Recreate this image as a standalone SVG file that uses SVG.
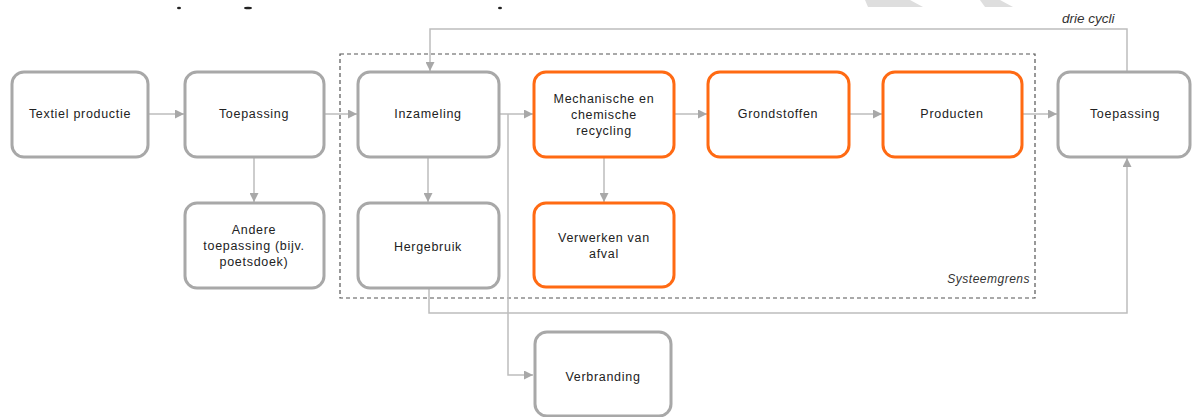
<svg xmlns="http://www.w3.org/2000/svg" width="1192" height="417" viewBox="0 0 1192 417">
<style>
.box{fill:#fff;stroke:#a8a8a8;stroke-width:3}
.obox{fill:#fff;stroke:#ff6a13;stroke-width:3}
.t{font-family:"Liberation Sans",Arial,sans-serif;font-size:12.5px;letter-spacing:0.7px;fill:#222;text-anchor:middle}
.it{font-family:"Liberation Sans",Arial,sans-serif;font-style:italic;fill:#333}
.c{fill:none;stroke:#bdbdbd;stroke-width:1.5}
</style>
<defs>
<marker id="ah" viewBox="0 0 10 10" refX="10" refY="5" markerWidth="9" markerHeight="9" markerUnits="userSpaceOnUse" orient="auto">
<path d="M0,0 L10,5 L0,10 Z" fill="#a8a8a8"/>
</marker>
</defs>
<rect width="1192" height="417" fill="#fff"/>
<g id="watermark" fill="#dedede">
<polygon points="865,0 910,0 923,7 868,7"/>
<polygon points="980,0 1000,0 1013,7 985,7"/>
</g>
<g id="title-fragments" fill="#222">
<ellipse cx="179" cy="8" rx="2" ry="1.2"/>
<ellipse cx="248" cy="8" rx="4" ry="1.3"/>
<ellipse cx="500" cy="8" rx="2" ry="1.2"/>
</g>
<g id="systeemgrens">
<rect x="340" y="54" width="695" height="244" fill="none" stroke="#555" stroke-width="1.2" stroke-dasharray="4 3"/>
<text class="it" x="1030" y="283" text-anchor="end" font-size="12" letter-spacing="0.5">Systeemgrens</text>
</g>
<g id="connectors">
<line class="c" x1="148" y1="114" x2="184" y2="114" marker-end="url(#ah)"/>
<line class="c" x1="324" y1="114" x2="357" y2="114" marker-end="url(#ah)"/>
<line class="c" x1="254" y1="157" x2="254" y2="202" marker-end="url(#ah)"/>
<line class="c" x1="499" y1="114" x2="533" y2="114" marker-end="url(#ah)"/>
<line class="c" x1="428" y1="157" x2="428" y2="202" marker-end="url(#ah)"/>
<polyline class="c" points="508,114 508,375 533,375" marker-end="url(#ah)"/>
<line class="c" x1="604" y1="157" x2="604" y2="202" marker-end="url(#ah)"/>
<line class="c" x1="674" y1="114" x2="707" y2="114" marker-end="url(#ah)"/>
<line class="c" x1="849" y1="114" x2="882" y2="114" marker-end="url(#ah)"/>
<line class="c" x1="1022" y1="114" x2="1057" y2="114" marker-end="url(#ah)"/>
<polyline class="c" points="429,288 429,313 1127,313 1127,158" marker-end="url(#ah)"/>
<polyline class="c" points="1127,72 1127,29 430,29 430,71" marker-end="url(#ah)"/>
<text class="it" x="1062" y="23" font-size="13.5">drie cycli</text>
</g>
<g id="textiel-productie">
<rect class="box" x="12" y="72" width="136" height="85" rx="12"/>
<text class="t" x="80" y="118">Textiel productie</text>
</g>
<g id="toepassing-1">
<rect class="box" x="185" y="72" width="139" height="85" rx="12"/>
<text class="t" x="254" y="118">Toepassing</text>
</g>
<g id="andere-toepassing">
<rect class="box" x="185" y="203" width="139" height="85" rx="12"/>
<text class="t" x="254" y="234">Andere</text>
<text class="t" x="254" y="250">toepassing (bijv.</text>
<text class="t" x="254" y="266">poetsdoek)</text>
</g>
<g id="inzameling">
<rect class="box" x="358" y="72" width="141" height="85" rx="12"/>
<text class="t" x="428" y="118">Inzameling</text>
</g>
<g id="hergebruik">
<rect class="box" x="358" y="203" width="141" height="85" rx="12"/>
<text class="t" x="428" y="251">Hergebruik</text>
</g>
<g id="mechanische-recycling">
<rect class="obox" x="534" y="72" width="140" height="85" rx="12"/>
<text class="t" x="604" y="103">Mechanische en</text>
<text class="t" x="604" y="119">chemische</text>
<text class="t" x="604" y="135">recycling</text>
</g>
<g id="verwerken-afval">
<rect class="obox" x="534" y="203" width="140" height="84" rx="12"/>
<text class="t" x="604" y="242">Verwerken van</text>
<text class="t" x="604" y="258">afval</text>
</g>
<g id="grondstoffen">
<rect class="obox" x="708" y="72" width="141" height="85" rx="12"/>
<text class="t" x="778" y="118">Grondstoffen</text>
</g>
<g id="producten">
<rect class="obox" x="883" y="72" width="139" height="85" rx="12"/>
<text class="t" x="952" y="118">Producten</text>
</g>
<g id="toepassing-2">
<rect class="box" x="1058" y="72" width="132" height="85" rx="12"/>
<text class="t" x="1125" y="118">Toepassing</text>
</g>
<g id="verbranding">
<rect class="box" x="535" y="332" width="136" height="84" rx="12"/>
<text class="t" x="603" y="381">Verbranding</text>
</g>
</svg>
